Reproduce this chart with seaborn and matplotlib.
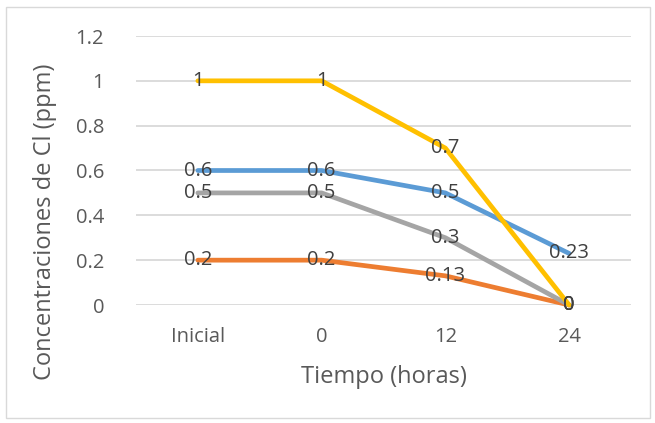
import matplotlib
matplotlib.use("Agg")
import matplotlib.pyplot as plt
import seaborn as sns
import pandas as pd
from matplotlib.patches import Rectangle

categories = ["Inicial", "0", "12", "24"]
serie_azul = [0.6, 0.6, 0.5, 0.23]
serie_naranja = [0.2, 0.2, 0.13, 0]
serie_gris = [0.5, 0.5, 0.3, 0]
serie_amarilla = [1, 1, 0.7, 0]
series_names = ["S1", "S2", "S3", "S4"]
series_values = [serie_azul, serie_naranja, serie_gris, serie_amarilla]
colors = ["#5B9BD5", "#ED7D31", "#A5A5A5", "#FFC000"]
yticks = [0, 0.2, 0.4, 0.6, 0.8, 1, 1.2]
ytick_labels = ["0", "0.2", "0.4", "0.6", "0.8", "1", "1.2"]

rows = []
for name, vals in zip(series_names, series_values):
    for i, (c, v) in enumerate(zip(categories, vals)):
        rows.append({"serie": name, "x": i, "cat": c, "y": v})
df = pd.DataFrame(rows)

sns.set_theme(style="white")
plt.rcParams['font.family'] = ['Open Sans', 'DejaVu Sans']

fig = plt.figure(figsize=(6.55, 4.23), dpi=100)
ax = fig.add_axes([136/655, 1-305/423, (631-136)/655, (305-36)/423])

sns.lineplot(data=df, x="x", y="y", hue="serie", palette=colors, linewidth=3.4,
             legend=False, ax=ax, sort=False, solid_capstyle="round", solid_joinstyle="round")

txtc = "#404040"
for name, vals in zip(series_names, series_values):
    for i, v in enumerate(vals):
        ax.text(i, v, f"{v:g}", ha="center", va="center", fontsize=14.5, color=txtc, zorder=5)

ax.set_xlim(-0.5, 3.5)
ax.set_ylim(0, 1.2)
ax.set_xticks(range(len(categories)))
ax.set_xticklabels(categories)
ax.set_yticks(yticks)
ax.set_yticklabels(ytick_labels)
ax.tick_params(axis="both", length=0, labelsize=14.5, labelcolor="#595959")
ax.tick_params(axis="x", pad=16)
ax.tick_params(axis="y", pad=23)
ax.grid(axis="y", color="#D9D9D9", linewidth=1.3)
ax.set_axisbelow(True)
for s in ax.spines.values():
    s.set_visible(False)
for l in ax.get_lines():
    l.set_clip_on(False)

ax.set_xlabel("Tiempo (horas)", fontsize=17, color="#595959", labelpad=13)
ax.set_ylabel("Concentraciones de Cl (ppm)", fontsize=17, color="#595959")
ax.yaxis.set_label_coords((57 - 136) / (631 - 136), (305 - 222) / (305 - 36))

fig.patches.append(Rectangle((6/655, 1-418/423), 644/655, 411/423, transform=fig.transFigure,
                             fill=False, edgecolor="#D9D9D9", linewidth=1.0))

fig.savefig("out.png", dpi=100)
